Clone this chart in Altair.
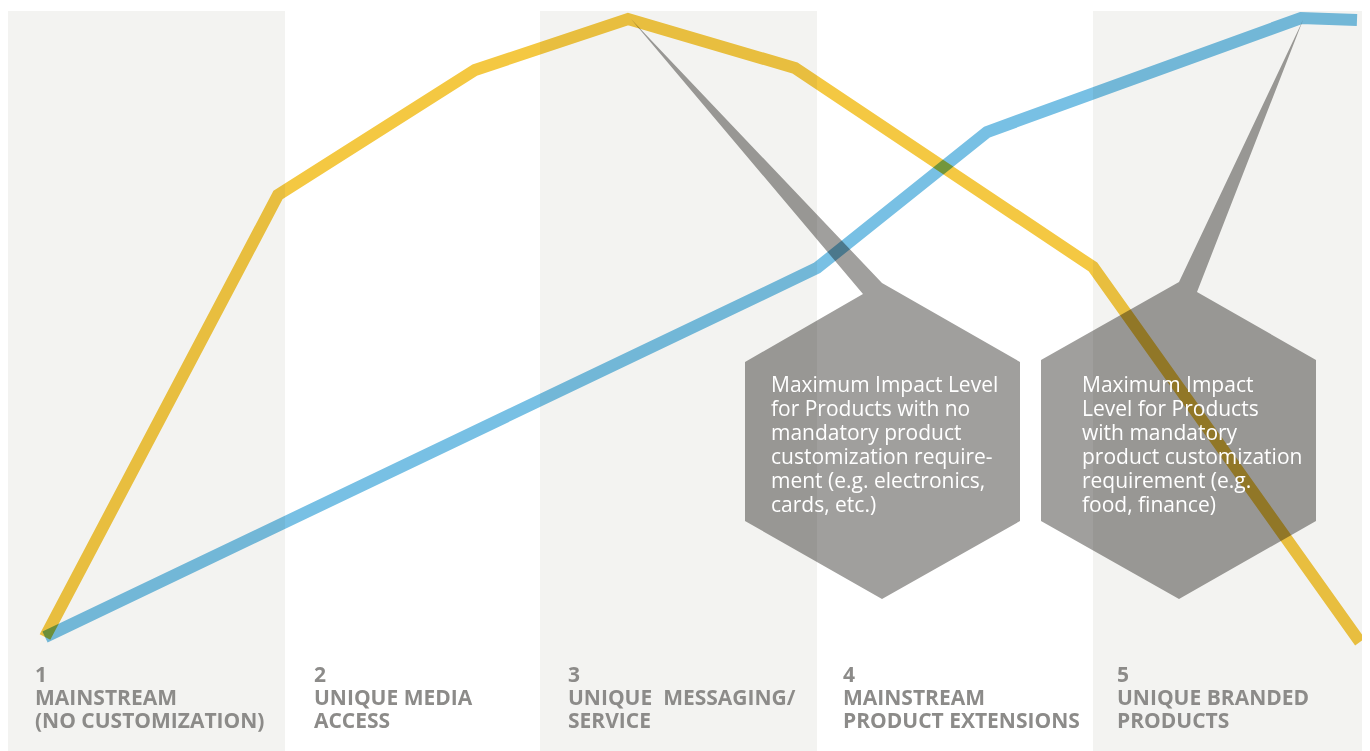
import altair as alt
import pandas as pd

# ---- data (page-pixel reading units) ----
band_x0 = [8, 540, 1093]
band_x1 = [285, 817, 1370]
band_top = 11
band_bottom = 751

yellow_x = [45, 278, 475, 628, 795, 1093, 1360]
yellow_y = [637, 195, 70, 19, 68, 267, 642]

blue_x = [45, 817, 987, 1301, 1357]
blue_y = [637, 268, 132, 18, 20]

hex1_x = [631, 882, 1020, 1020, 882, 745, 745, 863]
hex1_y = [19, 283, 362, 521, 599, 521, 362, 294]
hex2_x = [1303, 1197, 1316, 1316, 1179, 1041, 1041, 1179]
hex2_y = [20, 292, 360, 521, 599, 521, 360, 282]

hex_text = [
    "Maximum Impact Level\nfor Products with no\nmandatory product\ncustomization require-\nment (e.g. electronics,\ncards, etc.)",
    "Maximum Impact\nLevel for Products\nwith mandatory\nproduct customization\nrequirement (e.g.\nfood, finance)",
]
hex_text_x = [771, 1082]
hex_text_y = [392, 392]

stage_labels = [
    "1\nMAINSTREAM\n(NO CUSTOMIZATION)",
    "2\nUNIQUE MEDIA\nACCESS",
    "3\nUNIQUE \u00a0MESSAGING/\nSERVICE",
    "4\nMAINSTREAM\nPRODUCT EXTENSIONS",
    "5\nUNIQUE BRANDED\nPRODUCTS",
]
stage_x = [35, 314, 568, 843, 1117]
stage_y = [682] * 5

# ---- tables ----
bands = pd.DataFrame({"x0": band_x0, "x1": band_x1,
                      "y0": [band_top] * 3, "y1": [band_bottom] * 3})
lines = pd.concat([
    pd.DataFrame({"x": yellow_x, "y": yellow_y, "s": "yellow", "o": range(len(yellow_x))}),
    pd.DataFrame({"x": blue_x, "y": blue_y, "s": "blue", "o": range(len(blue_x))}),
])
polys = pd.concat([
    pd.DataFrame({"x": hex1_x + [hex1_x[0]], "y": hex1_y + [hex1_y[0]], "p": "h1",
                  "o": range(len(hex1_x) + 1)}),
    pd.DataFrame({"x": hex2_x + [hex2_x[0]], "y": hex2_y + [hex2_y[0]], "p": "h2",
                  "o": range(len(hex2_x) + 1)}),
])
htext = pd.DataFrame({"x": hex_text_x, "y": hex_text_y, "t": hex_text})
stext = pd.DataFrame({"x": stage_x, "y": stage_y, "t": stage_labels})

W, H = 1354, 743
xs = alt.Scale(domain=[8, 1362], nice=False, zero=False)
ys = alt.Scale(domain=[751, 8], nice=False, zero=False)
X = lambda f: alt.X(f, type="quantitative", scale=xs, axis=None)
Y = lambda f: alt.Y(f, type="quantitative", scale=ys, axis=None)

band_layer = alt.Chart(bands).mark_rect(color="#f3f3f1").encode(
    x=X("x0"), x2="x1", y=Y("y0"), y2="y1")

line_layer = alt.Chart(lines).mark_line(
    strokeWidth=12, strokeCap="butt", strokeJoin="miter", blend="multiply"
).encode(
    x=X("x"), y=Y("y"), order="o:Q",
    color=alt.Color("s:N", scale=alt.Scale(domain=["yellow", "blue"],
                                           range=["#f4c842", "#78c0e4"]), legend=None),
)

poly_layer = alt.Chart(polys).mark_line(
    fill="#a09f9d", strokeWidth=0, strokeOpacity=0, blend="multiply", interpolate="linear"
).encode(x=X("x"), y=Y("y"), order="o:Q", detail="p:N")

htext_layer = alt.Chart(htext).mark_text(
    align="left", baseline="alphabetic", font="Open Sans", fontSize=21,
    lineBreak="\n", lineHeight=24, color="#ffffff"
).encode(x=X("x"), y=Y("y"), text="t:N")

stext_layer = alt.Chart(stext).mark_text(
    align="left", baseline="alphabetic", font="Open Sans", fontSize=21, fontWeight="bold",
    lineBreak="\n", lineHeight=23, color="#8c8b89"
).encode(x=X("x"), y=Y("y"), text="t:N")

chart = alt.layer(band_layer, line_layer, poly_layer, htext_layer, stext_layer).properties(
    width=W, height=H, padding=0, autosize=alt.AutoSizeParams(type="none"),
    background="#ffffff"
).configure_view(stroke=None)

chart.save("out.html", embed_options={"renderer": "svg", "actions": False})
